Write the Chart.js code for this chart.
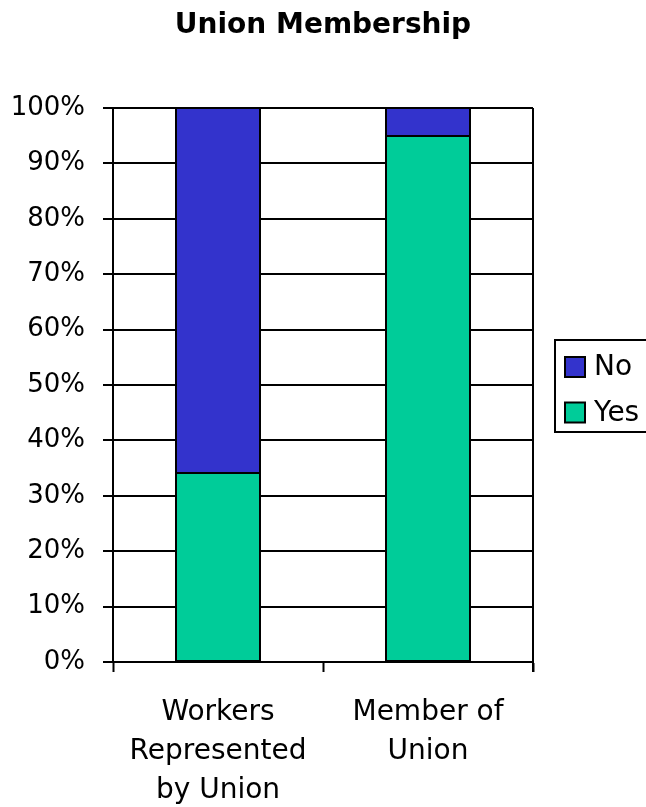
<!DOCTYPE html>
<html>
<head>
<meta charset="utf-8">
<script src="https://cdn.jsdelivr.net/npm/chart.js@4"></script>
<style>
  html, body { margin: 0; padding: 0; background: #fff; }
  #wrap { width: 646px; height: 807px; }
</style>
</head>
<body>
<div id="wrap"><canvas id="chart" width="646" height="807"></canvas></div>
<script>
const categories = [
  ['Workers', 'Represented', 'by Union'],
  ['Member of', 'Union'],
];
const yesValues = [34.2, 95];
const noValues = [65.8, 5];
const seriesNames = ['Yes', 'No'];
const seriesColors = ['#00CC99', '#3333CC'];
const chartTitle = 'Union Membership';

const FONT = 'Tahoma, "DejaVu Sans", sans-serif';

// title centred across the whole canvas
const pageTitle = {
  id: 'pageTitle',
  afterDraw(chart) {
    const ctx = chart.ctx;
    ctx.save();
    ctx.font = 'bold 28px ' + FONT;
    ctx.fillStyle = '#000';
    ctx.textAlign = 'center';
    ctx.textBaseline = 'alphabetic';
    ctx.fillText(chartTitle, chart.width / 2, 33);
    ctx.restore();
  }
};

// boxed legend on the right, top series listed first
const boxLegend = {
  id: 'boxLegend',
  afterDraw(chart) {
    const ctx = chart.ctx;
    const x = 555, y = 340, w = 120, h = 92;
    ctx.save();
    ctx.strokeStyle = '#000';
    ctx.lineWidth = 2;
    ctx.strokeRect(x, y, w, h);
    const sets = chart.data.datasets.slice().reverse();
    ctx.font = '28px ' + FONT;
    ctx.textBaseline = 'middle';
    sets.forEach((ds, i) => {
      const sy = 357 + i * 45.5;
      ctx.fillStyle = ds.backgroundColor;
      ctx.fillRect(565, sy, 20, 20);
      ctx.lineWidth = 2;
      ctx.strokeRect(565, sy, 20, 20);
      ctx.fillStyle = '#000';
      ctx.fillText(ds.label, 594, sy + 11);
    });
    ctx.restore();
  }
};

// crisp black outline round every bar segment, plus the right frame line
const outlines = {
  id: 'outlines',
  afterDatasetsDraw(chart) {
    const { ctx, chartArea } = chart;
    ctx.save();
    ctx.strokeStyle = '#000';
    ctx.lineWidth = 2;
    chart.data.datasets.forEach((ds, i) => {
      chart.getDatasetMeta(i).data.forEach((bar) => {
        const { x, y, base, width } = bar.getProps(['x', 'y', 'base', 'width'], true);
        const l = Math.round(x - width / 2);
        const r = Math.round(x + width / 2);
        const t = Math.round(y);
        const b = Math.round(base);
        ctx.strokeRect(l, t, r - l, b - t);
      });
    });
    ctx.beginPath();
    ctx.moveTo(chartArea.right, chartArea.top);
    ctx.lineTo(chartArea.right, chartArea.bottom + 10);
    ctx.stroke();
    ctx.restore();
  }
};

new Chart(document.getElementById('chart'), {
  type: 'bar',
  data: {
    labels: categories,
    datasets: [
      {
        label: seriesNames[0],
        data: yesValues,
        backgroundColor: seriesColors[0],
        borderWidth: 0,
      },
      {
        label: seriesNames[1],
        data: noValues,
        backgroundColor: seriesColors[1],
        borderWidth: 0,
      },
    ],
  },
  options: {
    responsive: false,
    animation: false,
    barPercentage: 0.4,
    categoryPercentage: 1,
    layout: { padding: { left: 13, right: 113, top: 108, bottom: 0 } },
    plugins: {
      legend: { display: false },
      tooltip: { enabled: false },
      title: { display: false },
    },
    scales: {
      x: {
        stacked: true,
        offset: true,
        afterFit: (scale) => { scale.height = 145; },
        grid: {
          offset: true,
          drawOnChartArea: false,
          drawTicks: true,
          tickLength: 10,
          tickColor: '#000',
          tickWidth: 2,
        },
        border: { color: '#000', width: 2 },
        ticks: {
          color: '#000',
          padding: 21,
          maxRotation: 0,
          font: { family: FONT, size: 28, lineHeight: 1.4 },
        },
      },
      y: {
        stacked: true,
        min: 0,
        max: 100,
        afterFit: (scale) => { scale.width = 100; },
        grid: {
          color: '#000',
          lineWidth: 2,
          tickLength: 10,
          tickColor: '#000',
        },
        border: { color: '#000', width: 2 },
        ticks: {
          stepSize: 10,
          color: '#000',
          padding: 18,
          font: { family: FONT, size: 26 },
          callback: (v) => v + '%',
        },
      },
    },
  },
  plugins: [pageTitle, boxLegend, outlines],
});
</script>
</body>
</html>
